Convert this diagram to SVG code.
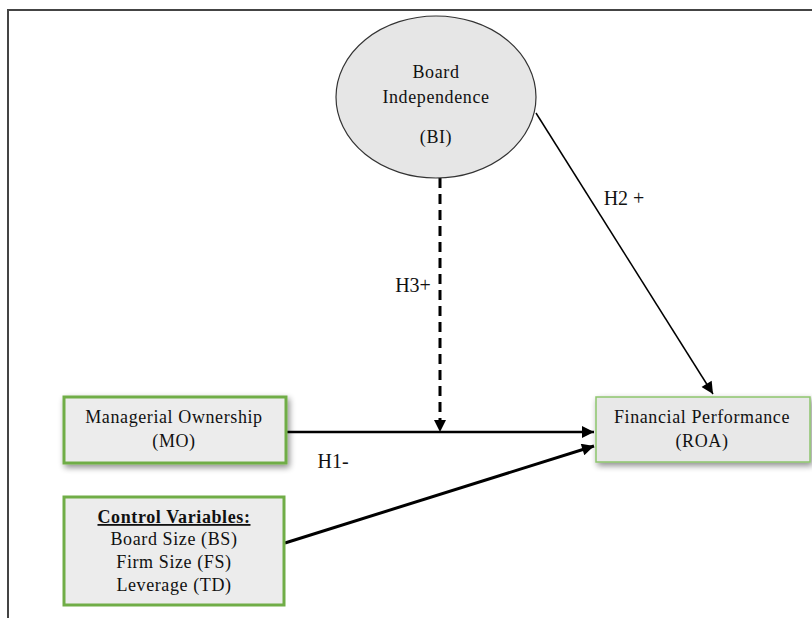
<svg xmlns="http://www.w3.org/2000/svg" width="812" height="618" viewBox="0 0 812 618">
<style>
text{font-family:"Liberation Serif","Times New Roman",serif;font-size:18px;letter-spacing:0.6px;fill:#111;text-anchor:middle}
text.lbl{font-size:20px;letter-spacing:0}
.box{fill:#ececec;stroke:#70ad47;stroke-width:3}
.ln{stroke:#000;fill:none}
</style>
<defs>
<marker id="ah2" viewBox="0 0 10 10" refX="10" refY="5" markerWidth="14" markerHeight="12" orient="auto" markerUnits="userSpaceOnUse">
<path d="M0,0 L10,5 L0,10 z" fill="#000"/>
</marker>
<filter id="sh" x="-10%" y="-20%" width="125%" height="150%">
<feGaussianBlur in="SourceAlpha" stdDeviation="3"/>
<feOffset dx="2" dy="3"/>
<feComponentTransfer><feFuncA type="linear" slope="0.45"/></feComponentTransfer>
<feMerge><feMergeNode/><feMergeNode in="SourceGraphic"/></feMerge>
</filter>
</defs>
<rect width="812" height="618" fill="#fff"/>
<path d="M8,618 V10 H812" fill="none" stroke="#444" stroke-width="2"/>
<g id="connectors">
<line class="ln" x1="440" y1="178" x2="440" y2="432" stroke-width="3" stroke-dasharray="10,6" marker-end="url(#ah2)"/>
<line class="ln" x1="536" y1="113" x2="713" y2="394" stroke-width="1.5" marker-end="url(#ah2)"/>
<line class="ln" x1="287" y1="432" x2="594" y2="432" stroke-width="2.5" marker-end="url(#ah2)"/>
<line class="ln" x1="285" y1="543" x2="594" y2="446" stroke-width="3" marker-end="url(#ah2)"/>
<text class="lbl" x="413" y="292">H3+</text>
<text class="lbl" x="624" y="205">H2 +</text>
<text class="lbl" x="333" y="468">H1-</text>
</g>
<g id="bi">
<ellipse cx="436" cy="97" rx="100" ry="81" fill="#e6e6e6" stroke="#333" stroke-width="1.2"/>
<text x="436" y="78">Board</text>
<text x="436" y="103">Independence</text>
<text x="436" y="143">(BI)</text>
</g>
<g id="mo">
<rect class="box" x="64" y="397" width="222" height="66" filter="url(#sh)"/>
<text x="174" y="423">Managerial Ownership</text>
<text x="174" y="447">(MO)</text>
</g>
<g id="cv">
<rect class="box" x="64" y="497" width="220" height="108"/>
<text x="174" y="523" font-weight="bold" text-decoration="underline">Control Variables:</text>
<text x="174" y="545">Board Size (BS)</text>
<text x="174" y="568">Firm  Size  (FS)</text>
<text x="174" y="591">Leverage (TD)</text>
</g>
<g id="fp">
<rect x="596" y="397" width="214" height="65" fill="#e8e8e8" stroke="#8dc56c" stroke-width="1.5" filter="url(#sh)"/>
<text x="702" y="423">Financial Performance</text>
<text x="702" y="447">(ROA)</text>
</g>
</svg>
